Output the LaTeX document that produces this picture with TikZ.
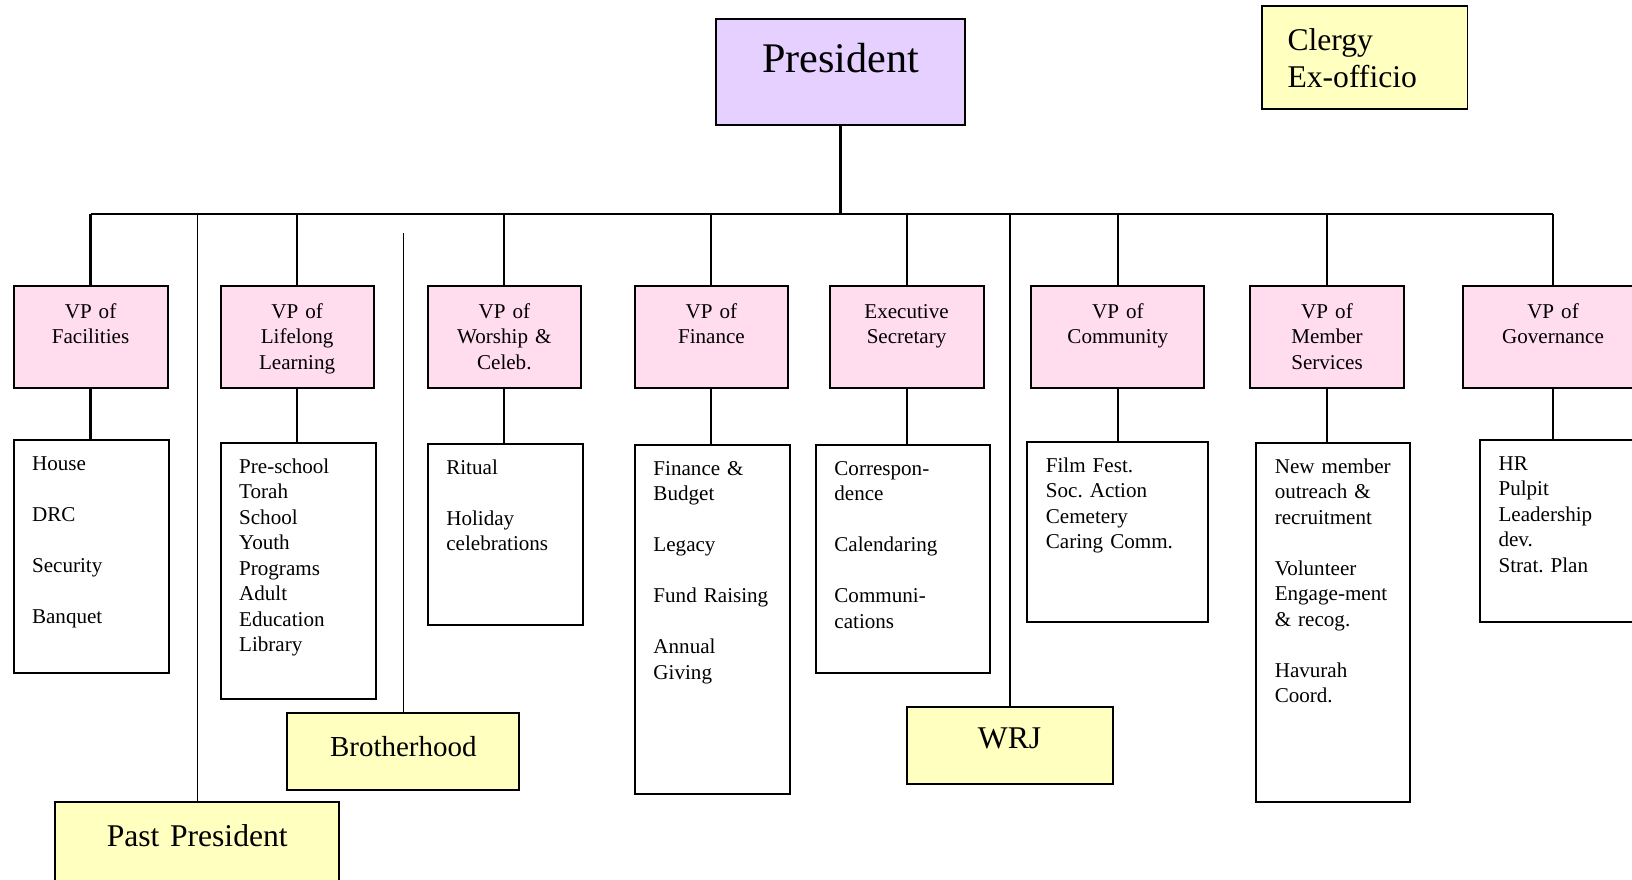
\documentclass[tikz,border=0pt]{standalone}
\usepackage{fontspec}
\setmainfont{Liberation Serif}
\frenchspacing
\definecolor{VpPink}{RGB}{255,220,238}
\definecolor{PresLilac}{RGB}{229,208,255}
\definecolor{AuxYellow}{RGB}{255,255,192}
\usetikzlibrary{math}
\tikzset{%
  chart grid/.style={x=0.02cm,y=-0.02cm},
  office/.style={draw, line width=1.1pt, anchor=north, align=center,
    inner xsep=0.1cm, inner ysep=0.34cm, text height=0.3cm,
    font=\fontsize{12}{14.5}\selectfont},
  vp box/.style={office, fill=VpPink, text depth=1.06cm},
  duty box/.style={office, fill=white, align=left, inner xsep=0.37cm, inner ysep=0.3cm},
  aux box/.style={office, fill=AuxYellow, text height=0.45cm, inner ysep=0.43cm,
    font=\fontsize{18}{21.5}\selectfont},
  pres box/.style={office, fill=PresLilac, text height=0.6cm, inner ysep=0.48cm,
    font=\fontsize{24}{29}\selectfont},
  link/.style={line width=1.2pt},
  thin link/.style={line width=0.7pt}
}

\begin{document}
\begin{tikzpicture}[chart grid]
  \tikzmath{
    \barY=214.4;% horizontal bar
    \vpTop=285.2;% top of the VP boxes
  }
  \useasboundingbox (0,0) rectangle (1632,879);
  \clip (0,0) rectangle (1632,879);
  % President and clergy.
  \node[pres box, text width=4.78cm, text depth=0.56cm] (pres) at (840.5,17.7) {President};
  \node[aux box, align=left, inner xsep=0.52cm, text width=3.08cm, text depth=0.75cm]
    (clergy) at (1364.5,5.2) {Clergy\\Ex-officio};
  % VP boxes.
  \node[vp box, text width=2.88cm] (vpfac) at (90.55,\vpTop) {VP of\\Facilities};
  \node[vp box, text width=2.86cm] (vplife) at (297.1,\vpTop) {VP of\\Lifelong\\Learning};
  \node[vp box, text width=2.86cm] (vpwor) at (504.3,\vpTop) {VP of\\Worship \&\\Celeb.};
  \node[vp box, text width=2.86cm] (vpfin) at (711.4,\vpTop) {VP of\\Finance};
  \node[vp box, text width=2.88cm] (vpexec) at (906.55,\vpTop) {Executive\\Secretary};
  \node[vp box, text width=3.26cm] (vpcom) at (1117.8,\vpTop) {VP of\\Community};
  \node[vp box, text width=2.88cm] (vpmem) at (1327,\vpTop) {VP of\\Member\\Services};
  \node[vp box, text width=3.42cm] (vpgov) at (1553,\vpTop) {VP of\\Governance};
  % Duty lists.
  \node[duty box, text width=2.36cm, text depth=3.76cm] (dutyfac) at (91.05,439.2)
    {House\\[14.5pt]DRC\\[14.5pt]Security\\[14.5pt]Banquet};
  \node[duty box, text width=2.36cm, text depth=4.22cm] (dutylife) at (298.15,442.3)
    {Pre-school\\Torah\\School\\Youth\\Programs\\Adult\\Education\\Library};
  \node[duty box, text width=2.36cm, text depth=2.72cm] (dutywor) at (505.3,443.4)
    {Ritual\\[14.5pt]Holiday\\celebrations};
  \node[duty box, text width=2.36cm, text depth=6.07cm] (dutyfin) at (712.45,444.4)
    {Finance \&\\Budget\\[14.5pt]Legacy\\[14.5pt]Fund Raising\\[14.5pt]Annual\\Giving};
  \node[duty box, text width=2.74cm, text depth=3.66cm] (dutyexec) at (902.9,444.4)
    {Correspon-\\dence\\[14.5pt]Calendaring\\[14.5pt]Communi-\\cations};
  \node[duty box, text width=2.88cm, text depth=2.70cm] (dutycom) at (1117.85,441.3)
    {Film Fest.\\Soc. Action\\Cemetery\\Caring Comm.};
  \node[duty box, text width=2.34cm, text depth=6.28cm] (dutymem) at (1333.25,442.3)
    {New member\\outreach \&\\recruitment\\[14.5pt]Volunteer\\Engage-ment\\\& recog.\\[14.5pt]Havurah\\Coord.};
  \node[duty box, text width=2.46cm, text depth=2.74cm] (dutygov) at (1560,439.2)
    {HR\\Pulpit\\Leadership\\dev.\\Strat. Plan};
  % Auxiliary groups.
  \node[aux box, text width=5.48cm, text depth=0.29cm] (pastpres) at (197.25,801.4) {Past President};
  \node[aux box, font=\fontsize{16.5}{20}\selectfont, text width=4.44cm, text depth=0.23cm]
    (brother) at (403.35,711.9) {Brotherhood};
  \node[aux box, inner ysep=0.39cm, text width=3.92cm, text depth=0.31cm] (wrj) at (1009.55,705.7) {WRJ};
  % Connectors.
  \coordinate (bar) at (0,\barY);
  \coordinate (brotop) at (401.7,233);
  \draw[link] (vpfac.north |- bar) -- (vpgov.north |- bar);
  \draw[link] (pres.south) -- (pres.south |- bar);
  \foreach \n in {fac,life,wor,fin,exec,com,mem,gov}{
    \draw[link] (vp\n.north |- bar) -- (vp\n.north);
    \draw[link] (vp\n.south) -- (vp\n.south |- duty\n.north);
  }
  \draw[thin link] (pastpres.north |- bar) -- (pastpres.north);
  \draw[thin link] (brother.north |- brotop) -- (brother.north);
  \draw[link] (wrj.north |- bar) -- (wrj.north);
\end{tikzpicture}
\end{document}
